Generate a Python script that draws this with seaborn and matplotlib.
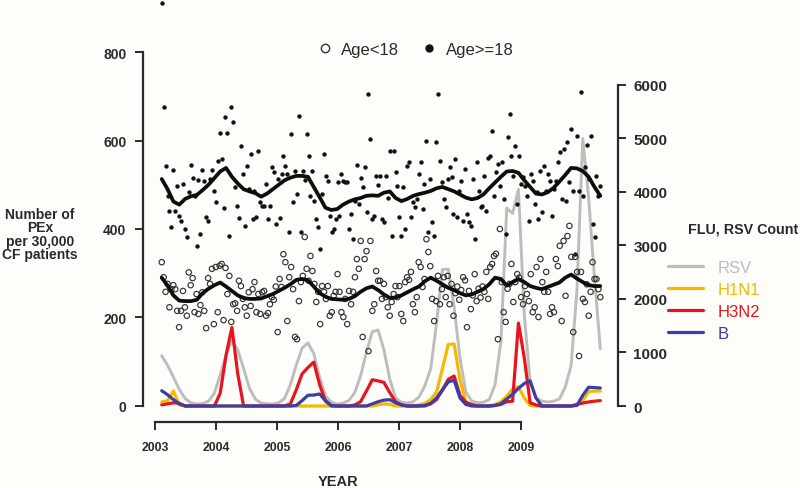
import numpy as np
import pandas as pd
import matplotlib
matplotlib.use("Agg")
import matplotlib.pyplot as plt
from matplotlib.lines import Line2D
import seaborn as sns

# ---------------- data ----------------
year_ticks = [2003, 2004, 2005, 2006, 2007, 2008, 2009]
t_start, t_end = 2003.11, 2010.30

# Monthly flu / RSV counts (right axis)
rsv = [940, 760, 540, 310, 140, 60, 37, 45, 90, 240, 580, 950, 1220, 1050, 700, 330,
       130, 55, 40, 37, 60, 140, 400, 760, 1080, 1180, 980, 540, 190, 70, 37, 55,
       100, 250, 560, 1000, 1390, 1420, 1050, 500, 150, 70, 55, 80, 170, 380, 700, 1550,
       2550, 2560, 1850, 900, 260, 95, 60, 70, 120, 400, 1200, 3700, 3600, 4050, 1700, 450,
       150, 90, 75, 90, 130, 350, 750, 2150, 5000, 3900, 2400, 1070]
h1n1 = [75, 100, 280, 20, 0, 0, 0, 0, 0, 0, 0, 0, 0, 0, 0, 0,
        0, 0, 0, 0, 0, 0, 0, 0, 0, 0, 0, 0, 0, 0, 0, 0,
        0, 0, 0, 0, 0, 20, 40, 30, 0, 0, 0, 0, 20, 50, 120, 260,
        700, 1150, 1160, 500, 80, 10, 0, 0, 0, 30, 80, 180, 320, 360, 150, 10,
        0, 0, 0, 0, 0, 0, 0, 20, 100, 270, 280, 280]
h3n2 = [20, 40, 60, 50, 0, 0, 0, 0, 0, 0, 240, 950, 1470, 600, 0, 0,
        0, 0, 0, 0, 0, 0, 40, 300, 600, 720, 820, 400, 90, 0, 0, 0,
        0, 20, 80, 280, 490, 470, 440, 250, 80, 20, 0, 0, 0, 0, 40, 120,
        300, 500, 560, 200, 70, 30, 0, 0, 0, 10, 30, 80, 90, 1550, 900, 60,
        20, 0, 0, 0, 0, 0, 0, 30, 55, 75, 90, 100]
flu_b = [286, 210, 120, 40, 0, 0, 0, 0, 0, 0, 0, 0, 0, 0, 0, 0,
         0, 0, 0, 0, 0, 0, 0, 10, 100, 200, 205, 224, 100, 10, 0, 0,
         0, 0, 0, 0, 40, 80, 110, 118, 60, 20, 0, 0, 0, 10, 50, 150,
         300, 450, 480, 150, 30, 0, 0, 0, 0, 10, 40, 130, 220, 330, 420, 470,
         150, 0, 0, 0, 0, 0, 0, 10, 200, 350, 345, 336]

# Smoothed PEx trends (left axis), monthly
trend_adult = [513, 490, 462, 455, 468, 474, 477, 488, 500, 515, 530, 538, 518, 503, 490, 485,
               481, 473, 480, 490, 500, 510, 516, 520, 520, 518, 495, 472, 448, 443, 445, 455,
               462, 467, 470, 475, 476, 475, 482, 485, 470, 463, 468, 475, 479, 482, 486, 492,
               495, 490, 485, 478, 471, 467, 470, 478, 492, 505, 518, 530, 531, 527, 510, 495,
               480, 478, 483, 493, 507, 522, 538, 537, 531, 518, 495, 475]
trend_child = [290, 272, 250, 238, 237, 237, 240, 255, 265, 273, 279, 270, 260, 250, 244, 242,
               242, 243, 248, 253, 260, 267, 275, 285, 287, 284, 270, 255, 247, 242, 241, 240,
               242, 248, 258, 266, 270, 262, 252, 244, 245, 250, 257, 264, 270, 282, 290, 283,
               275, 267, 262, 255, 250, 252, 258, 264, 275, 290, 287, 272, 280, 287, 280, 271,
               267, 264, 269, 274, 279, 290, 297, 288, 280, 273, 271, 271]

# PEx per 30,000 CF patients, Age>=18 (filled dots)
pex_adult = [911, 675, 542, 475, 441, 404, 534, 441, 497, 429, 418, 502,
             400, 382, 483, 545, 515, 475, 362, 511, 389, 534, 509, 427,
             418, 513, 534, 486, 461, 554, 617, 558, 447, 653, 617, 384,
             675, 642, 495, 452, 425, 588, 524, 407, 543, 490, 570, 423,
             486, 427, 577, 461, 452, 452, 502, 423, 452, 540, 528, 411,
             513, 425, 524, 565, 543, 524, 393, 615, 461, 531, 480, 655,
             393, 531, 510, 615, 565, 475, 531, 463, 423, 404, 355, 480,
             570, 520, 508, 430, 393, 400, 423, 506, 430, 524, 508, 506,
             506, 400, 434, 377, 463, 545, 456, 515, 495, 540, 438, 705,
             603, 423, 430, 520, 500, 520, 423, 416, 520, 470, 577, 384,
             577, 528, 497, 427, 384, 495, 400, 543, 551, 427, 461, 450,
             468, 524, 551, 445, 502, 599, 393, 513, 416, 384, 597, 705,
             554, 506, 468, 450, 513, 540, 517, 434, 558, 427, 486, 508,
             418, 535, 434, 416, 407, 513, 377, 551, 486, 450, 452, 520,
             441, 560, 565, 621, 475, 528, 547, 497, 551, 468, 389, 608,
             660, 565, 520, 588, 456, 565, 502, 517, 497, 475, 418, 524,
             508, 456, 483, 423, 531, 438, 543, 486, 524, 508, 430, 490,
             508, 551, 574, 468, 581, 463, 597, 506, 626, 486, 343, 610,
             486, 709, 475, 540, 590, 513, 610, 411, 382, 520, 475, 497]

# PEx per 30,000 CF patients, Age<18 (open circles)
pex_child = [325, 291, 258, 276, 223, 264, 273, 264, 215, 178, 215, 260,
             223, 204, 302, 273, 289, 212, 253, 208, 228, 257, 215, 176,
             289, 276, 310, 185, 314, 212, 317, 321, 194, 312, 253, 294,
             190, 230, 232, 215, 283, 271, 242, 223, 204, 257, 226, 264,
             280, 212, 253, 208, 257, 260, 204, 210, 230, 246, 240, 270,
             167, 287, 269, 343, 325, 192, 291, 314, 264, 156, 151, 237,
             280, 294, 382, 310, 283, 339, 305, 276, 235, 258, 185, 271,
             258, 242, 271, 204, 212, 249, 258, 298, 258, 212, 201, 242,
             185, 260, 230, 258, 291, 332, 310, 373, 156, 332, 350, 124,
             373, 215, 230, 305, 283, 283, 242, 276, 246, 223, 204, 235,
             253, 271, 246, 271, 208, 192, 280, 291, 285, 303, 230, 212,
             246, 325, 314, 269, 287, 377, 348, 316, 242, 192, 237, 294,
             230, 264, 291, 246, 294, 230, 276, 204, 255, 270, 240, 262,
             291, 284, 178, 260, 219, 250, 298, 237, 265, 245, 270, 258,
             303, 242, 314, 321, 339, 344, 151, 400, 280, 212, 190, 265,
             276, 321, 235, 280, 298, 290, 246, 230, 271, 253, 237, 298,
             212, 223, 314, 201, 332, 280, 258, 303, 258, 208, 223, 212,
             332, 316, 362, 192, 373, 249, 384, 407, 337, 167, 337, 303,
             113, 303, 242, 235, 275, 204, 258, 325, 287, 287, 264, 246]

t_month = np.linspace(t_start, t_end, len(rsv))
t_scatter = np.linspace(t_start, t_end, len(pex_adult))

flu = pd.DataFrame({"t": t_month, "RSV": rsv, "H1N1": h1n1, "H3N2": h3n2, "B": flu_b,
                    "adult": trend_adult, "child": trend_child})
pts = pd.DataFrame({"t": t_scatter, "adult": pex_adult, "child": pex_child})

# ---------------- style ----------------
sns.set_style("ticks")
plt.rcParams["font.family"] = ["Liberation Sans", "DejaVu Sans"]
INK = "#2a2a2a"
BG = "#fdfdfa"
flu_colors = {"RSV": "#bdbdbd", "H1N1": "#f6b800", "H3N2": "#e8141c", "B": "#3a3ea6"}

fig = plt.figure(figsize=(8.0, 4.89), dpi=100, facecolor=BG)
ax = fig.add_axes([143 / 800, 66 / 489, 475 / 800, 423 / 489])
ax.set_facecolor("none")
ax2 = ax.twinx()
ax2.set_facecolor("none")

# flu / RSV lines (right axis)
for name in ["RSV", "H1N1", "H3N2", "B"]:
    sns.lineplot(data=flu, x="t", y=name, ax=ax2, color=flu_colors[name],
                 linewidth=2.3 if name != "RSV" else 2.1, legend=False,
                 clip_on=False)

# scatter + trends (left axis)
sns.scatterplot(data=pts, x="t", y="adult", ax=ax, color="#111111", s=10,
                linewidth=0, legend=False, clip_on=False, zorder=3)
sns.scatterplot(data=pts, x="t", y="child", ax=ax, facecolor="none",
                edgecolor="#333333", s=15, linewidth=0.85, legend=False,
                clip_on=False, zorder=3)
sns.lineplot(data=flu, x="t", y="adult", ax=ax, color="#0d0d0d", linewidth=2.7,
             legend=False, zorder=4)
sns.lineplot(data=flu, x="t", y="child", ax=ax, color="#0d0d0d", linewidth=2.7,
             legend=False, zorder=4)
ax.set_zorder(3)
ax2.set_zorder(2)

# ---------------- axes ----------------
ax.set_xlim(2002.803, 2010.59)
ax.set_ylim(-36.2, 919.8)
ax2.set_ylim(-299, 7607)

for s in ["top", "right"]:
    ax.spines[s].set_visible(False)
for s in ["top", "left", "bottom"]:
    ax2.spines[s].set_visible(False)
ax.spines["left"].set_bounds(0, 800)
ax.spines["bottom"].set_bounds(2003, 2009)
ax2.spines["right"].set_bounds(0, 6000)
for sp in [ax.spines["left"], ax.spines["bottom"], ax2.spines["right"]]:
    sp.set_color(INK)
    sp.set_linewidth(1.6)

ax.set_xticks(year_ticks)
ax.set_xticklabels([str(y) for y in year_ticks], fontsize=8.8, fontweight="bold", color=INK)
ax.set_yticks([0, 200, 400, 600, 800])
ax.set_yticklabels(["0", "200", "400", "600", "800"], fontsize=10, fontweight="bold", color=INK)
ax2.set_yticks([0, 1000, 2000, 3000, 4000, 5000, 6000])
ax2.set_yticklabels(["0", "1000", "2000", "3000", "4000", "5000", "6000"],
                    fontsize=11, fontweight="bold", color=INK)
ax.tick_params(axis="y", length=6, width=1.4, color=INK, pad=6)
ax.tick_params(axis="x", length=6, width=1.4, color=INK, pad=8)
ax2.tick_params(axis="y", length=6, width=1.4, color=INK, pad=5)
ax.set_xlabel("")
ax.set_ylabel("")
ax2.set_ylabel("")

fig.text(338 / 800, 1 - 482 / 489, "YEAR", ha="center", va="center",
         fontsize=10.5, fontweight="bold", color=INK)
fig.text(40 / 800, 1 - 235 / 489, "Number of\nPEx\nper 30,000\nCF patients",
         ha="center", va="center", fontsize=10, fontweight="bold", color=INK,
         linespacing=0.95)
fig.text(688 / 800, 1 - 230 / 489, "FLU, RSV Count", ha="left", va="center",
         fontsize=10.3, fontweight="bold", color=INK)

# top legend for age groups
age_handles = [
    Line2D([], [], ls="", marker="o", mfc="none", mec="#333333", mew=1.0, ms=6),
    Line2D([], [], ls="", marker="o", mfc="#111111", mec="#111111", ms=5),
]
leg1 = fig.legend(age_handles, ["Age<18", "Age>=18"], ncol=2, frameon=False,
                  loc="center", bbox_to_anchor=(416 / 800, 1 - 50 / 489),
                  fontsize=12, handlelength=0.8, handletextpad=0.6,
                  columnspacing=1.4, borderpad=0, borderaxespad=0)
for t in leg1.get_texts():
    t.set_color(INK)

# flu legend
names = ["RSV", "H1N1", "H3N2", "B"]
flu_handles = [Line2D([], [], color=flu_colors[n], lw=2.3) for n in names]
leg2 = fig.legend(flu_handles, names, frameon=False, loc="upper left",
                  bbox_to_anchor=(668 / 800, 1 - 261 / 489), fontsize=12,
                  handlelength=2.1, handletextpad=0.9, labelspacing=0.42,
                  borderpad=0, borderaxespad=0,
                  labelcolor=[flu_colors[n] for n in names])

fig.savefig("out.png", dpi=100, facecolor=BG)
